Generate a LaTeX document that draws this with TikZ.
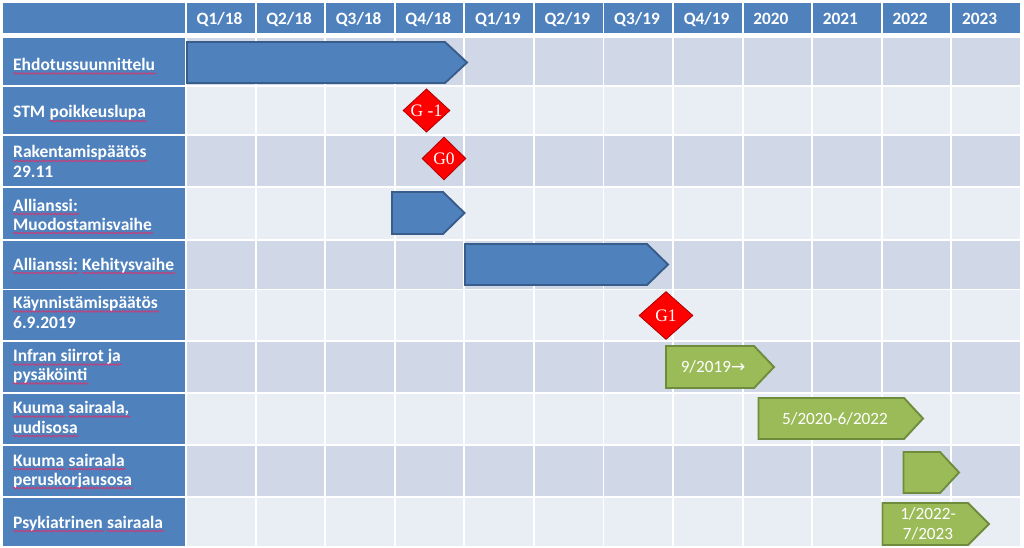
\documentclass[tikz,border=0pt]{standalone}
\usepackage{fontspec}
\setmainfont{Carlito}
\newfontfamily\msfont{Liberation Serif}
\newfontfamily\symfont{DejaVu Sans}
\usetikzlibrary{shapes.geometric,decorations.pathmorphing}
\definecolor{hblue}{HTML}{4F81BD}
\definecolor{rowA}{HTML}{D0D8E8}
\definecolor{rowB}{HTML}{E9EDF4}
\definecolor{bborder}{HTML}{385D8A}
\definecolor{gfill}{HTML}{9BBB59}
\definecolor{gborder}{HTML}{6E8C3C}
\definecolor{mred}{HTML}{FF0000}
\definecolor{mborder}{HTML}{B00000}
\definecolor{spellred}{HTML}{E0306A}
\begin{document}
\begin{tikzpicture}[x=1pt,y=-1pt,
  hdrtext/.style={anchor=base west, inner sep=0, text=white, font=\bfseries\fontsize{17.3}{20}\selectfont},
  lbl/.style={anchor=base west, inner sep=0, text=white, font=\bfseries\fontsize{17.5}{20}\selectfont},
  nextword/.style={lbl, xshift=4pt},
  spell/.style={draw=spellred, line width=0.7pt, decorate, decoration={snake, amplitude=0.8pt, segment length=3.2pt}},
  bluebar/.style={fill=hblue, draw=bborder, line width=1.9pt, line join=miter},
  greenbar/.style={fill=gfill, draw=gborder, line width=1.9pt, line join=miter},
  bartext/.style={inner sep=0, text=white, font=\fontsize{17.2}{20}\selectfont, align=center},
  milestone/.style={diamond, fill=mred, draw=mborder, line width=0.8pt, inner sep=0, text=white, font=\msfont\fontsize{17.5}{18}\selectfont}]
\useasboundingbox (0,0) rectangle (1024,548);
\fill[white] (0,0) rectangle (1024,548);
% header row
\fill[hblue] (3,3) rectangle (185,33.5);
\foreach \lab [count=\i from 0] in {{Q1/18},{Q2/18},{Q3/18},{Q4/18},{Q1/19},{Q2/19},{Q3/19},{Q4/19},{2020},{2021},{2022},{2023}}{
  \pgfmathsetmacro\xl{187+69.58*\i}
  \fill[hblue] (\xl,3) rectangle (\xl+67.6,33.5);
  \node[hdrtext] (h\i) at (\xl+9.5,25) {\lab};
}
% body rows
\foreach \t/\b/\c in {38/85.5/rowA, 87/134.5/rowB, 136/186/rowA, 188/238.5/rowB, 240.5/288.5/rowA, 290/340/rowB, 342/392/rowA, 393.5/443.5/rowB, 446/495.5/rowA, 498/546/rowB}{
  \fill[hblue] (3,\t) rectangle (185,\b);
  \foreach \k in {0,...,11}{
    \pgfmathsetmacro\xl{187+69.58*\k}
    \fill[\c] (\xl,\t) rectangle (\xl+67.6,\b);
  }
}
% row labels
\node[lbl] (l1) at (13,70.5) {Ehdotussuunnittelu};
\node[lbl] (l2s) at (13,118) {STM};
\node[nextword] (l2) at (l2s.base east) {poikkeuslupa};
\node[lbl] (l3a) at (13,158) {Rakentamispäätös};
\node[lbl] (l3b) at (13,177) {29.11};
\node[lbl] (l4a) at (13,211) {Allianssi:};
\node[lbl] (l4b) at (13,230) {Muodostamisvaihe};
\node[lbl] (l5a) at (13,270) {Allianssi:};
\node[nextword] (l5b) at (l5a.base east) {Kehitysvaihe};
\node[lbl] (l6a) at (13,308.5) {Käynnistämispäätös};
\node[lbl] (l6b) at (13,328) {6.9.2019};
\node[lbl] (l7a) at (13,361.5) {Infran siirrot ja};
\node[lbl] (l7b) at (13,380.5) {pysäköinti};
\node[lbl] (l8a) at (13,413.5) {Kuuma};
\node[nextword] (l8b) at (l8a.base east) {sairaala,};
\node[lbl] (l8c) at (13,433) {uudisosa};
\node[lbl] (l9a) at (13,466) {Kuuma};
\node[nextword] (l9b) at (l9a.base east) {sairaala};
\node[lbl] (l9c) at (13,485) {peruskorjausosa};
\node[lbl] (l10a) at (13,528) {Psykiatrinen};
\node[nextword] (l10b) at (l10a.base east) {sairaala};
% spell-check underlines
\foreach \n in {l1,l2,l3a,l4a,l4b,l5a,l5b,l6a,l7a,l7b,l8a,l8b,l8c,l9a,l9b,l9c,l10a,l10b}{
  \draw[spell] ([yshift=-3pt]\n.base west) -- ([yshift=-3pt,xshift=1pt]\n.base east);
}
% blue bars
\draw[bluebar] (187,42) -- (445,42) -- (467,62.5) -- (445,83) -- (187,83) -- cycle;
\draw[bluebar] (392,192) -- (443,192) -- (464.5,213) -- (443,234) -- (392,234) -- cycle;
\draw[bluebar] (465,244) -- (647,244) -- (668,264.5) -- (647,285) -- (465,285) -- cycle;
% green bars
\draw[greenbar] (666,346) -- (754,346) -- (774,367) -- (754,388) -- (666,388) -- cycle;
\node[bartext] (t7) at (713,367) {9/2019{\symfont\fontsize{17}{18}\selectfont →}};
\draw[greenbar] (758.5,398) -- (904,398) -- (923,418.5) -- (904,439) -- (758.5,439) -- cycle;
\node[bartext] (t8) at (835,418.5) {5/2020-6/2022};
\draw[greenbar] (903.5,452) -- (940,452) -- (959,472.5) -- (940,493) -- (903.5,493) -- cycle;
\draw[greenbar] (882.5,503) -- (968,503) -- (989,524) -- (968,545) -- (882.5,545) -- cycle;
\node[bartext] (t10) at (928,523.5) {1/2022-\\7/2023};
% milestones
\node[milestone, minimum width=47pt, minimum height=43pt] (g-1) at (426.5,110.5) {G -1};
\node[milestone, minimum width=44pt, minimum height=43pt] (g0) at (444,158.5) {G0};
\node[milestone, minimum width=54pt, minimum height=48pt] (g1) at (666,315.5) {G1};
\end{tikzpicture}
\end{document}
